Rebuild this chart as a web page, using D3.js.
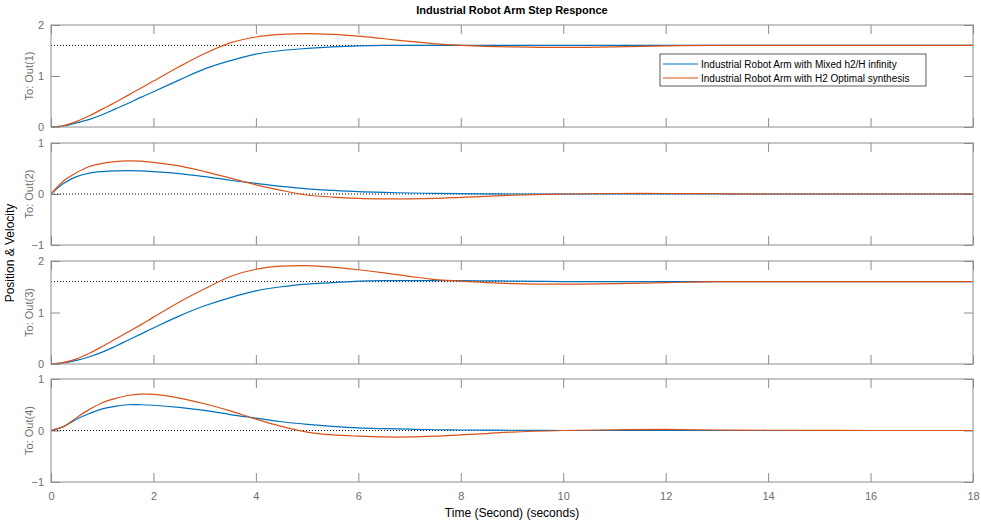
<!DOCTYPE html>
<html>
<head>
<meta charset="utf-8">
<script src="https://cdn.jsdelivr.net/npm/d3@7"></script>
<style>
  body { margin: 0; background: #fff; }
  text { font-family: "Liberation Sans", Arial, sans-serif; }
</style>
</head>
<body>
<div id="chart"></div>
<script>
// time samples (s)
var time = [0, 0.25, 0.5, 0.75, 1, 1.25, 1.5, 1.75, 2, 2.5, 3, 3.5, 4, 4.5, 5, 5.5, 6, 6.5, 7, 7.5, 8, 8.5, 9, 10, 11, 12, 13, 14, 16, 18];

// Mixed h2/H infinity (blue)
var mixOut1 = [0, 0.02, 0.08, 0.15, 0.24, 0.35, 0.46, 0.58, 0.69, 0.92, 1.14, 1.30, 1.43, 1.50, 1.54, 1.57, 1.59, 1.60, 1.60, 1.60, 1.60, 1.60, 1.60, 1.60, 1.60, 1.60, 1.60, 1.60, 1.60, 1.60];
var mixOut2 = [0, 0.21, 0.34, 0.41, 0.44, 0.455, 0.46, 0.455, 0.44, 0.40, 0.34, 0.27, 0.21, 0.15, 0.10, 0.07, 0.045, 0.03, 0.02, 0.012, 0.006, 0.003, 0, 0, 0, 0, 0, 0, 0, 0];
var mixOut3 = [0, 0.02, 0.07, 0.14, 0.23, 0.34, 0.46, 0.58, 0.70, 0.93, 1.13, 1.29, 1.42, 1.50, 1.55, 1.58, 1.61, 1.62, 1.62, 1.62, 1.62, 1.615, 1.61, 1.60, 1.60, 1.60, 1.60, 1.60, 1.60, 1.60];
var mixOut4 = [0, 0.08, 0.22, 0.33, 0.42, 0.47, 0.50, 0.50, 0.49, 0.45, 0.39, 0.31, 0.24, 0.17, 0.12, 0.08, 0.05, 0.035, 0.025, 0.015, 0.01, 0.007, 0.005, 0, 0, 0, 0, 0, 0, 0];

// H2 Optimal synthesis (orange)
var h2Out1 = [0, 0.03, 0.11, 0.22, 0.35, 0.48, 0.62, 0.76, 0.90, 1.18, 1.44, 1.65, 1.765, 1.815, 1.83, 1.815, 1.78, 1.73, 1.68, 1.63, 1.60, 1.58, 1.57, 1.56, 1.57, 1.59, 1.60, 1.60, 1.60, 1.60];
var h2Out2 = [0, 0.26, 0.42, 0.54, 0.60, 0.635, 0.65, 0.645, 0.62, 0.55, 0.44, 0.31, 0.18, 0.07, -0.02, -0.06, -0.085, -0.095, -0.095, -0.085, -0.065, -0.045, -0.025, 0, 0.01, 0.01, 0.005, 0, 0, 0];
var h2Out3 = [0, 0.03, 0.10, 0.21, 0.34, 0.48, 0.62, 0.76, 0.91, 1.20, 1.46, 1.70, 1.84, 1.90, 1.91, 1.88, 1.83, 1.77, 1.70, 1.64, 1.61, 1.58, 1.56, 1.55, 1.56, 1.58, 1.60, 1.60, 1.60, 1.60];
var h2Out4 = [0, 0.08, 0.25, 0.41, 0.54, 0.62, 0.68, 0.705, 0.70, 0.63, 0.52, 0.38, 0.22, 0.08, -0.03, -0.085, -0.11, -0.125, -0.125, -0.11, -0.085, -0.06, -0.03, 0, 0.015, 0.02, 0.01, 0.005, 0, 0];

var steady = [1.6, 0, 1.6, 0];
var yDomains = [[0, 2], [-1, 1], [0, 2], [-1, 1]];
var yTicks = [[0, 1, 2], [-1, 0, 1], [0, 1, 2], [-1, 0, 1]];
var outLabels = ["To: Out(1)", "To: Out(2)", "To: Out(3)", "To: Out(4)"];
var xTicks = [0, 2, 4, 6, 8, 10, 12, 14, 16, 18];
var seriesNames = ["Industrial Robot Arm with Mixed h2/H infinity", "Industrial Robot Arm with H2 Optimal synthesis"];

var blue = "#0072BD", orange = "#D95319", axisColor = "#8c8c8c", labelColor = "#6e6e6e";

var svg = d3.select("#chart").append("svg")
  .attr("width", 981)
  .attr("height", 521);

var left = 51, right = 973;
var panels = [{top: 25, bottom: 127}, {top: 143, bottom: 245}, {top: 261, bottom: 364}, {top: 379, bottom: 482}];
var mixData = [mixOut1, mixOut2, mixOut3, mixOut4];
var h2Data = [h2Out1, h2Out2, h2Out3, h2Out4];

var x = d3.scaleLinear().domain([0, 18]).range([left, right]);

panels.forEach(function(p, i) {
  var y = d3.scaleLinear().domain(yDomains[i]).range([p.bottom, p.top]);
  var g = svg.append("g");

  svg.append("clipPath").attr("id", "clip" + i)
    .append("rect").attr("x", left).attr("y", p.top)
    .attr("width", right - left).attr("height", p.bottom - p.top);

  // inward ticks on all four sides
  g.append("g").attr("transform", "translate(0," + p.bottom + ")")
    .call(d3.axisBottom(x).tickValues(xTicks).tickSizeInner(-9).tickSizeOuter(0).tickPadding(10)
      .tickFormat(i === 3 ? d3.format("d") : ""));
  g.append("g").attr("transform", "translate(0," + p.top + ")")
    .call(d3.axisTop(x).tickValues(xTicks).tickSizeInner(-9).tickSizeOuter(0).tickFormat(""));
  g.append("g").attr("transform", "translate(" + left + ",0)")
    .call(d3.axisLeft(y).tickValues(yTicks[i]).tickSizeInner(-9).tickSizeOuter(0).tickPadding(7).tickFormat(d3.format("d")));
  g.append("g").attr("transform", "translate(" + right + ",0)")
    .call(d3.axisRight(y).tickValues(yTicks[i]).tickSizeInner(-9).tickSizeOuter(0).tickFormat(""));

  g.selectAll(".domain").remove();
  g.selectAll(".tick line").attr("stroke", axisColor);
  g.selectAll(".tick text").attr("fill", labelColor).style("font-size", "11px");

  // steady-state reference
  svg.append("line")
    .attr("x1", left).attr("x2", right)
    .attr("y1", y(steady[i])).attr("y2", y(steady[i]))
    .attr("stroke", "#000").attr("stroke-width", 1)
    .attr("stroke-dasharray", "1,2");

  var line = d3.line()
    .x(function(d, k) { return x(time[k]); })
    .y(function(d) { return y(d); })
    .curve(d3.curveCatmullRom.alpha(0.5));

  svg.append("path").datum(mixData[i])
    .attr("clip-path", "url(#clip" + i + ")")
    .attr("fill", "none").attr("stroke", blue).attr("stroke-width", 1.2)
    .attr("d", line);
  svg.append("path").datum(h2Data[i])
    .attr("clip-path", "url(#clip" + i + ")")
    .attr("fill", "none").attr("stroke", orange).attr("stroke-width", 1.2)
    .attr("d", line);

  svg.append("rect")
    .attr("x", left).attr("y", p.top)
    .attr("width", right - left).attr("height", p.bottom - p.top)
    .attr("fill", "none").attr("stroke", axisColor).attr("stroke-width", 1);

  svg.append("text")
    .attr("transform", "translate(33," + ((p.top + p.bottom) / 2) + ") rotate(-90)")
    .attr("text-anchor", "middle")
    .attr("fill", labelColor)
    .style("font-size", "11px")
    .text(outLabels[i]);
});

// title and axis labels
svg.append("text")
  .attr("x", (left + right) / 2).attr("y", 14)
  .attr("text-anchor", "middle")
  .style("font-size", "11px").style("font-weight", "bold")
  .text("Industrial Robot Arm Step Responce");

svg.append("text")
  .attr("x", (left + right) / 2).attr("y", 517)
  .attr("text-anchor", "middle")
  .style("font-size", "12px")
  .text("Time (Second) (seconds)");

svg.append("text")
  .attr("transform", "translate(14,253) rotate(-90)")
  .attr("text-anchor", "middle")
  .style("font-size", "12px")
  .text("Position & Velocity");

// legend
var legend = svg.append("g").attr("transform", "translate(660,54)");
legend.append("rect").attr("width", 266).attr("height", 32)
  .attr("fill", "#fff").attr("stroke", "#333").attr("stroke-width", 0.8);
[blue, orange].forEach(function(c, k) {
  var yy = 10 + k * 14;
  legend.append("line").attr("x1", 3).attr("x2", 38).attr("y1", yy).attr("y2", yy)
    .attr("stroke", c).attr("stroke-width", 1.2);
  legend.append("text").attr("x", 41).attr("y", yy + 3.5)
    .style("font-size", "10px").attr("fill", "#000")
    .text(seriesNames[k]);
});
</script>
</body>
</html>
